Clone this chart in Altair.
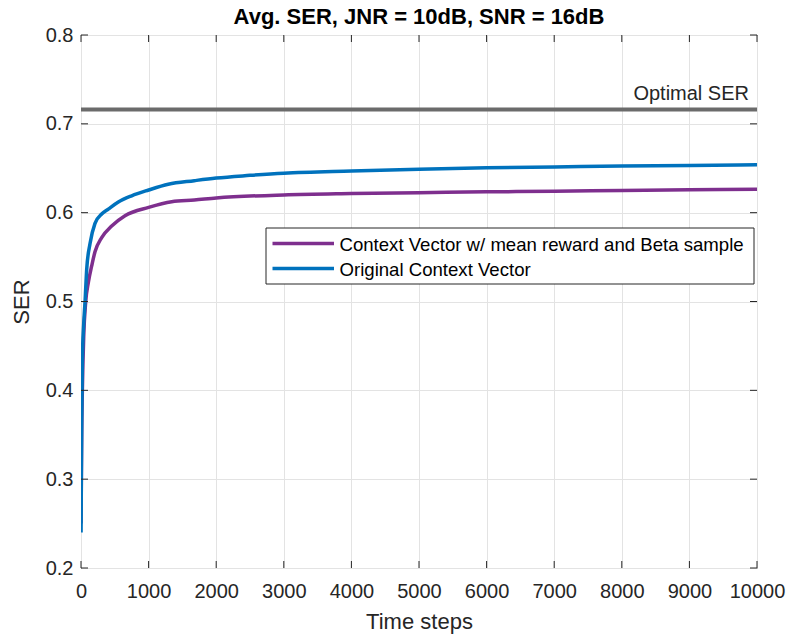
import altair as alt
import pandas as pd

# ---- data ----
series_names = ["Context Vector w/ mean reward and Beta sample", "Original Context Vector"]
series_colors = ["#7E2F8E", "#0072BD"]

blue_x = [1, 5, 10, 20, 40, 60, 84, 133, 207, 306, 404, 552, 750, 1000, 1291, 1676,
          2000, 2500, 3000, 4000, 5000, 6000, 7000, 8000, 9000, 10000]
blue_y = [0.24, 0.30, 0.36, 0.434, 0.475, 0.50, 0.536, 0.565, 0.588, 0.5985, 0.604, 0.612,
          0.619, 0.6255, 0.632, 0.636, 0.639, 0.642, 0.6445, 0.647, 0.649, 0.6505, 0.6515,
          0.6525, 0.653, 0.654]

purple_x = [1, 5, 10, 20, 40, 70, 110, 158, 207, 306, 454, 651, 1000, 1342, 1676, 2000,
            3000, 4000, 5000, 6000, 7000, 8000, 9000, 10000]
purple_y = [0.25, 0.30, 0.35, 0.40, 0.46, 0.50, 0.522, 0.540, 0.556, 0.572, 0.585, 0.5966,
            0.606, 0.6124, 0.6143, 0.6165, 0.620, 0.6215, 0.6225, 0.6235, 0.624, 0.625,
            0.6258, 0.6265]

optimal_ser = [0.716]
optimal_label = ["Optimal SER"]

x_ticks = [0, 1000, 2000, 3000, 4000, 5000, 6000, 7000, 8000, 9000, 10000]
y_ticks = [0.2, 0.3, 0.4, 0.5, 0.6, 0.7, 0.8]

title_text = "Avg. SER, JNR = 10dB, SNR = 16dB"
x_title = "Time steps"
y_title = "SER"

W, H = 676, 533
FONT = "Liberation Sans"
TXT = "#262626"

df = pd.concat([
    pd.DataFrame({"step": purple_x, "ser": purple_y, "series": series_names[0], "order": 0}),
    pd.DataFrame({"step": blue_x, "ser": blue_y, "series": series_names[1], "order": 1}),
])

xscale = alt.Scale(domain=[0, 10000], nice=False, zero=False)
yscale = alt.Scale(domain=[0.2, 0.8], nice=False, zero=False)

xaxis = alt.Axis(values=x_ticks, format="d", title=x_title, grid=True, ticks=False,
                 domain=False, labelPadding=13, titlePadding=10, labelFlush=False,
                 labelOverlap=False)
yaxis = alt.Axis(values=y_ticks, format=".1f", title=y_title, grid=True, ticks=False,
                 domain=False, labelPadding=8, titlePadding=12, labelFlush=False)

base = alt.Chart(df)

lines = base.mark_line(strokeWidth=3.5, interpolate="monotone", clip=True).encode(
    x=alt.X("step:Q", scale=xscale, axis=xaxis),
    y=alt.Y("ser:Q", scale=yscale, axis=yaxis),
    color=alt.Color("series:N", scale=alt.Scale(domain=series_names, range=series_colors),
                    legend=None),
    detail="series:N",
    order="order:Q",
)

opt_df = pd.DataFrame({"ser": optimal_ser, "label": optimal_label})
opt_rule = alt.Chart(opt_df).mark_rule(color="#6b6b6b", strokeWidth=4).encode(
    y=alt.Y("ser:Q", scale=yscale),
    x=alt.value(0), x2=alt.value(W),
)
opt_text = alt.Chart(opt_df).mark_text(
    align="right", baseline="alphabetic", dy=-10, fontSize=20, font=FONT, color=TXT
).encode(
    y=alt.Y("ser:Q", scale=yscale),
    x=alt.value(W - 8),
    text="label:N",
)

# inward ticks on all four sides
xt = pd.DataFrame({"t": x_ticks})
yt = pd.DataFrame({"t": y_ticks})
tick_col = "#262626"
tb = alt.Chart(xt).mark_rule(color=tick_col, strokeWidth=1).encode(
    x=alt.X("t:Q", scale=xscale), y=alt.value(H), y2=alt.value(H - 7))
tt = alt.Chart(xt).mark_rule(color=tick_col, strokeWidth=1).encode(
    x=alt.X("t:Q", scale=xscale), y=alt.value(0), y2=alt.value(7))
tl = alt.Chart(yt).mark_rule(color=tick_col, strokeWidth=1).encode(
    y=alt.Y("t:Q", scale=yscale), x=alt.value(0), x2=alt.value(7))
tr = alt.Chart(yt).mark_rule(color=tick_col, strokeWidth=1).encode(
    y=alt.Y("t:Q", scale=yscale), x=alt.value(W), x2=alt.value(W - 7))

# legend box
leg_df = pd.DataFrame({"name": series_names, "col": series_colors})
leg_box = alt.Chart(leg_df.head(1)).mark_rect(fill="white", stroke="#262626", strokeWidth=1).encode(
    x=alt.value(185), x2=alt.value(673), y=alt.value(193), y2=alt.value(249))
leg_items = []
for i, (nm, c) in enumerate(zip(series_names, series_colors)):
    yy = 208.5 + 25 * i
    sub = alt.Chart(pd.DataFrame({"name": [nm]}))
    leg_items.append(sub.mark_rule(color=c, strokeWidth=3.5).encode(
        x=alt.value(191.5), x2=alt.value(253), y=alt.value(yy)))
    leg_items.append(sub.mark_text(align="left", baseline="middle", fontSize=18.6,
                                   font=FONT, color="#000000").encode(
        x=alt.value(258.5), y=alt.value(yy + 1), text="name:N"))

chart = alt.layer(
    lines, opt_rule, opt_text, tb, tt, tl, tr, leg_box, *leg_items
).properties(
    width=W, height=H,
    background="white",
    title=alt.TitleParams(title_text, fontSize=22, fontWeight="bold", font=FONT,
                          anchor="middle", offset=-4, color="#000000"),
    autosize=alt.AutoSizeParams(type="none"),
    padding={"left": 81, "top": 35, "right": 33, "bottom": 70},
).configure_view(
    stroke="#262626", strokeWidth=1
).configure_axis(
    labelFont=FONT, titleFont=FONT, labelFontSize=20, titleFontSize=22,
    labelColor=TXT, titleColor=TXT, titleFontWeight="normal",
    gridColor="#e3e3e3", gridWidth=1,
)

chart.save("out.html", embed_options={"renderer": "svg", "actions": False})
